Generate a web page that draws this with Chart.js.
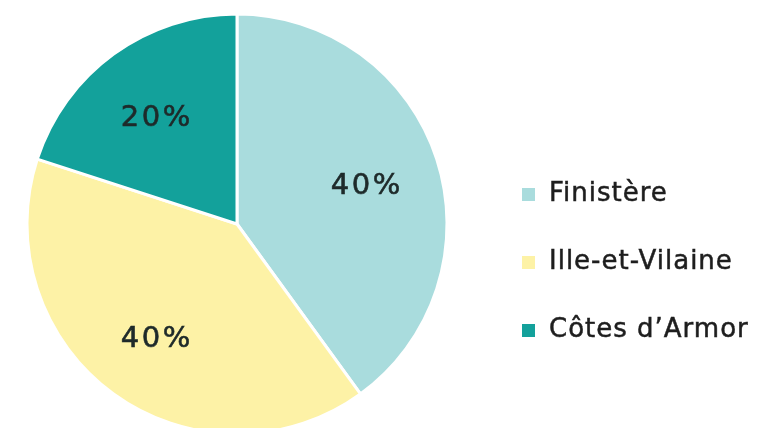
<!DOCTYPE html>
<html lang="fr">
<head>
  <meta charset="UTF-8">
  <title>Répartition par département</title>
  <script src="https://cdn.jsdelivr.net/npm/chart.js"></script>
  <style>
    html, body { margin: 0; padding: 0; background: #fff; }
    #wrap { width: 766px; height: 428px; }
  </style>
</head>
<body>
  <div id="wrap"><canvas id="pie" width="766" height="428"></canvas></div>

  <script>
    // Données du graphique
    const departements = ['Finistère', 'Ille-et-Vilaine', 'Côtes d\u2019Armor'];
    const parts = [40, 40, 20];
    const couleurs = ['#a9dcdd', '#fdf2a6', '#13a19b'];

    // Pourcentages écrits dans les parts
    const pourcentages = {
      id: 'pourcentages',
      afterDatasetsDraw(chart) {
        const c = chart.ctx;
        const meta = chart.getDatasetMeta(0);
        c.save();
        c.font = '29px "DejaVu Sans"';
        c.letterSpacing = '2.5px';
        c.fillStyle = '#1e2a2a';
        c.strokeStyle = '#1e2a2a';
        c.lineWidth = 0.6;
        c.textAlign = 'center';
        c.textBaseline = 'middle';
        meta.data.forEach((arc, i) => {
          const mid = (arc.startAngle + arc.endAngle) / 2;
          const r = arc.outerRadius * 0.65;
          const x = arc.x + Math.cos(mid) * r;
          const y = arc.y + Math.sin(mid) * r + 5;
          c.fillText(parts[i] + '%', x, y);
          c.strokeText(parts[i] + '%', x, y);
        });
        c.restore();
      }
    };

    // Légende dessinée à droite
    const legende = {
      id: 'legende',
      afterDraw(chart) {
        const c = chart.ctx;
        c.save();
        c.font = '26px "DejaVu Sans"';
        c.letterSpacing = '1px';
        c.textBaseline = 'middle';
        c.strokeStyle = '#1e1e1e';
        c.lineWidth = 0.5;
        departements.forEach((nom, i) => {
          const y = 194 + i * 68;
          c.fillStyle = couleurs[i];
          c.fillRect(522, y - 6, 13, 13);
          c.fillStyle = '#1e1e1e';
          c.fillText(nom, 549, y);
          c.strokeText(nom, 549, y);
        });
        c.restore();
      }
    };

    new Chart(document.getElementById('pie'), {
      type: 'pie',
      data: {
        labels: departements,
        datasets: [{
          data: parts,
          backgroundColor: couleurs,
          borderColor: '#ffffff',
          borderWidth: 3,
          radius: 210
        }]
      },
      options: {
        responsive: false,
        animation: false,
        layout: { padding: { left: 27, top: 20, right: 319, bottom: 0 } },
        plugins: {
          legend: { display: false },
          tooltip: { enabled: false }
        }
      },
      plugins: [pourcentages, legende]
    });
  </script>
</body>
</html>
